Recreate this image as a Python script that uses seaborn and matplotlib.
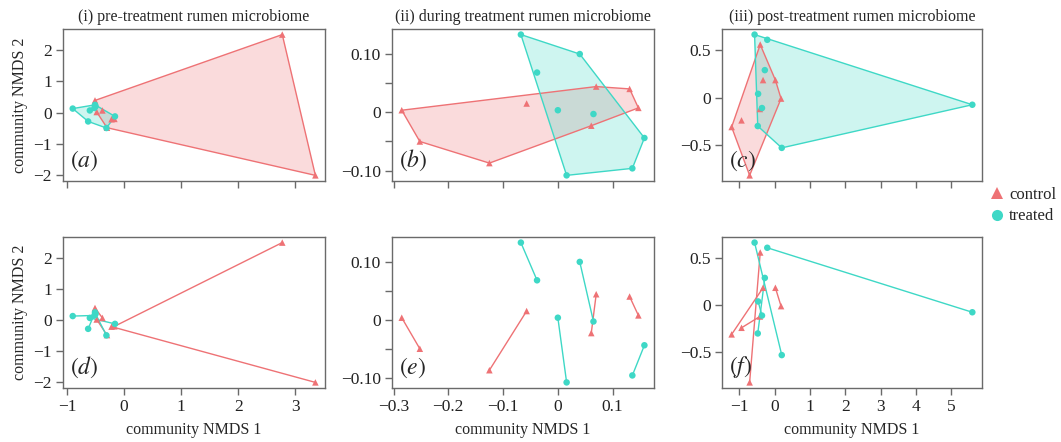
import numpy as np, pandas as pd, matplotlib
matplotlib.use('Agg')
import matplotlib.pyplot as plt
import seaborn as sns
from matplotlib.lines import Line2D

# ---------- data ----------
# points are stored so that samples from the same animal sit next to each other: (0,1), (2,3), ...
pre_ctrl_x = [2.77, -0.17, 3.35, -0.22, -0.51, -0.38, -0.48, -0.30]
pre_ctrl_y = [2.49, -0.20, -2.00, -0.21, 0.39, 0.07, 0.02, -0.48]
pre_trt_x = [-0.90, -0.52, -0.63, -0.51, -0.50, -0.31, -0.60, -0.16]
pre_trt_y = [0.13, 0.15, -0.28, 0.25, 0.20, -0.49, 0.07, -0.12]

dur_ctrl_x = [-0.285, -0.252, -0.125, -0.057, 0.061, 0.070, 0.131, 0.147]
dur_ctrl_y = [0.0035, -0.050, -0.087, 0.015, -0.023, 0.044, 0.040, 0.0075]
dur_trt_x = [-0.0675, -0.038, 0.040, 0.065, 0.0, 0.016, 0.136, 0.158]
dur_trt_y = [0.133, 0.068, 0.0997, -0.003, 0.0035, -0.108, -0.096, -0.044]

post_ctrl_x = [-0.41, -0.71, 0.02, 0.18, -0.33, -1.22, -0.42, -0.94]
post_ctrl_y = [0.56, -0.82, 0.185, -0.01, 0.185, -0.31, -0.12, -0.24]
post_trt_x = [-0.21, 5.60, -0.57, 0.20, -0.28, -0.48, -0.47, -0.36]
post_trt_y = [0.61, -0.075, 0.665, -0.53, 0.29, -0.30, 0.04, -0.11]

titles = ['(i) pre-treatment rumen microbiome',
          '(ii) during treatment rumen microbiome',
          '(iii) post-treatment rumen microbiome']
letters = [['a', 'b', 'c'], ['d', 'e', 'f']]
x_ticks = [[-1, 0, 1, 2, 3], [-0.3, -0.2, -0.1, 0, 0.1], [-1, 0, 1, 2, 3, 4, 5]]
x_labels = [['\u22121', '0', '1', '2', '3'],
            ['\u22120.3', '\u22120.2', '\u22120.1', '0', '0.1'],
            ['\u22121', '0', '1', '2', '3', '4', '5']]
y_ticks = [[-2, -1, 0, 1, 2], [-0.10, -0.05, 0, 0.05, 0.10], [-0.5, 0, 0.5]]
y_labels = [['\u22122', '\u22121', '0', '1', '2'],
            ['\u22120.10', '', '0', '', '0.10'],
            ['\u22120.5', '0', '0.5']]

groups = ['control', 'treated']
colors = {'control': '#EE7275', 'treated': '#3ED8C6'}
markers = {'control': '^', 'treated': 'o'}

panels = [(pre_ctrl_x, pre_ctrl_y, pre_trt_x, pre_trt_y),
          (dur_ctrl_x, dur_ctrl_y, dur_trt_x, dur_trt_y),
          (post_ctrl_x, post_ctrl_y, post_trt_x, post_trt_y)]


def hull(px, py):
    # monotone chain convex hull
    pts = sorted(set(zip(px, py)))
    def cross(o, a, b):
        return (a[0]-o[0])*(b[1]-o[1]) - (a[1]-o[1])*(b[0]-o[0])
    lo, up = [], []
    for p in pts:
        while len(lo) >= 2 and cross(lo[-2], lo[-1], p) <= 0:
            lo.pop()
        lo.append(p)
    for p in reversed(pts):
        while len(up) >= 2 and cross(up[-2], up[-1], p) <= 0:
            up.pop()
        up.append(p)
    h = lo[:-1] + up[:-1]
    return np.array(h)


sns.set_style('white')
plt.rcParams['font.family'] = ['Liberation Serif', 'DejaVu Serif']
plt.rcParams['mathtext.fontset'] = 'stix'

fig = plt.figure(figsize=(10.61, 4.42), dpi=100)
lefts = [0.0594, 0.3695, 0.6805]
widths = [0.247, 0.247, 0.245]
bottoms = [0.5905, 0.1222]
heights = [0.344, 0.3416]

for r in range(2):
    for c in range(3):
        ax = fig.add_axes([lefts[c], bottoms[r], widths[c], heights[r]])
        cx, cy, tx, ty = panels[c]
        df = pd.DataFrame({'x': cx + tx, 'y': cy + ty,
                           'group': ['control'] * len(cx) + ['treated'] * len(tx)})
        if r == 0:
            for g, (gx, gy) in zip(groups, [(cx, cy), (tx, ty)]):
                h = hull(gx, gy)
                ax.fill(h[:, 0], h[:, 1], color=colors[g], alpha=0.25, lw=0, zorder=1)
                ax.fill(h[:, 0], h[:, 1], fill=False, ec=colors[g], lw=1.0, zorder=2)
        else:
            for g, (gx, gy) in zip(groups, [(cx, cy), (tx, ty)]):
                for i in range(0, len(gx), 2):
                    ax.plot(gx[i:i+2], gy[i:i+2], color=colors[g], lw=1.0, zorder=2)
        sns.scatterplot(data=df, x='x', y='y', hue='group', style='group',
                        palette=colors, markers=markers, s=22, linewidth=0,
                        legend=False, ax=ax, zorder=3)
        ax.margins(0.04)
        ax.set_xticks(x_ticks[c])
        ax.set_yticks(y_ticks[c])
        ax.set_yticklabels(y_labels[c])
        if r == 1:
            ax.set_xticklabels(x_labels[c])
            ax.set_xlabel('community NMDS 1', fontsize=11.5, labelpad=5)
        else:
            ax.set_xticklabels([])
            ax.set_xlabel('')
            ax.set_title(titles[c], fontsize=11.5, pad=6)
        if c == 0:
            ax.set_ylabel('community NMDS 2', fontsize=11.5)
        else:
            ax.set_ylabel('')
        ax.tick_params(direction='out', length=5, width=1, color='#6a6a6a',
                       labelsize=12.5, labelcolor='#222222', pad=3)
        ax.tick_params(axis='both', bottom=True, left=True)
        for s in ax.spines.values():
            s.set_color('#6a6a6a')
            s.set_linewidth(1.0)
        ax.text(0.025, 0.05, '$(%s)$' % letters[r][c], transform=ax.transAxes,
                fontsize=17, ha='left', va='bottom', zorder=5)

handles = [Line2D([], [], marker=markers[g], color=colors[g], ls='', markersize=8,
                  markeredgewidth=0, label=g) for g in groups]
fig.legend(handles=handles, loc='center left', bbox_to_anchor=(0.933, 0.535),
           frameon=False, fontsize=12, handletextpad=0.35, labelspacing=0.35,
           handlelength=0.8, borderaxespad=0, borderpad=0)

fig.savefig('out.png', dpi=100)
